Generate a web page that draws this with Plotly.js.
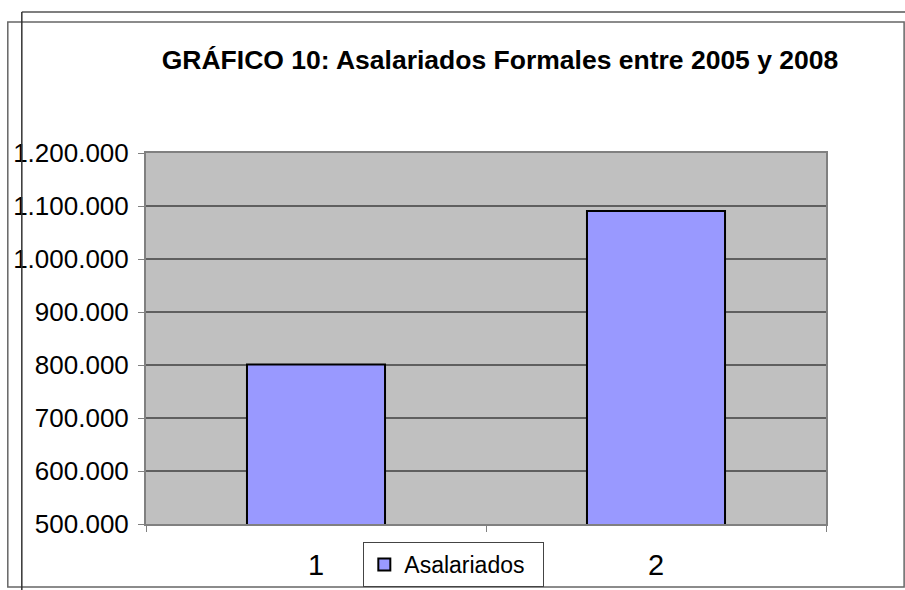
<!DOCTYPE html>
<html>
<head>
<meta charset="utf-8">
<script src="https://cdn.plot.ly/plotly-3.0.1.min.js"></script>
<style>html,body{margin:0;padding:0;background:#fff;}#chart{width:905px;height:590px;}</style>
</head>
<body>
<div id="chart"></div>
<script>
const categories = ["1", "2"];
const asalariados = [801000, 1090500];
const seriesName = "Asalariados";
const yTicks = [500000, 600000, 700000, 800000, 900000, 1000000, 1100000, 1200000];
const titleText = "GRÁFICO 10: Asalariados Formales entre 2005 y 2008";

const F = "Liberation Sans, Arial, sans-serif";
const trace = {
  type: "bar",
  x: categories,
  y: asalariados,
  name: seriesName,
  marker: {color: "#9999ff", line: {color: "#000000", width: 2}},
  showlegend: true,
  hoverinfo: "none"
};
const layout = {
  width: 905, height: 590,
  margin: {l: 146, r: 79, t: 153, b: 66, autoexpand: false},
  paper_bgcolor: "#ffffff",
  plot_bgcolor: "#c0c0c0",
  separators: ",.",
  bargap: 0.594,
  title: {text: "<b>" + titleText + "</b>", font: {family: F, size: 26.5, color: "#000"}, x: 500/905, xanchor: "center", y: 1 - 60/590, yanchor: "middle"},
  xaxis: {
    type: "category",
    tickson: "boundaries",
    ticks: "outside", ticklen: 6, tickcolor: "#808080",
    showgrid: false,
    showline: true, linecolor: "#808080", linewidth: 2, mirror: true,
    tickfont: {family: F, size: 29, color: "#000"},
    ticklabelstandoff: 14,
    zeroline: false
  },
  yaxis: {
    range: [500000, 1200000],
    tickvals: yTicks,
    tickformat: ",d",
    ticks: "outside", ticklen: 6, tickcolor: "#808080",
    showgrid: true, gridcolor: "#5f5f5f", gridwidth: 1.5,
    showline: true, linecolor: "#808080", linewidth: 2, mirror: true,
    tickfont: {family: F, size: 26, color: "#000"},
    ticklabelstandoff: 4,
    zeroline: false
  },
  legend: {
    orientation: "h",
    x: (363-146)/679, xanchor: "left",
    y: (524-587)/371, yanchor: "bottom",
    entrywidth: 134,
    bordercolor: "#444", borderwidth: 1, bgcolor: "#fff",
    font: {family: F, size: 23, color: "#000"}
  },
  shapes: [
    {type: "rect", xref: "paper", yref: "paper", x0: (8-146)/679, x1: (903-146)/679, y0: (524-587)/371, y1: (524-22)/371, line: {color: "#666666", width: 1.5}, layer: "below"},
    {type: "line", xref: "paper", yref: "paper", x0: (22-146)/679, x1: (905-146)/679, y0: (524-12)/371, y1: (524-12)/371, line: {color: "#555555", width: 1.5}},
    {type: "line", xref: "paper", yref: "paper", x0: (22-146)/679, x1: (22-146)/679, y0: (524-12)/371, y1: (524-595)/371, line: {color: "#333333", width: 1.5}}
  ]
};
Plotly.newPlot("chart", [trace], layout, {staticPlot: true, displayModeBar: false});
</script>
</body>
</html>
